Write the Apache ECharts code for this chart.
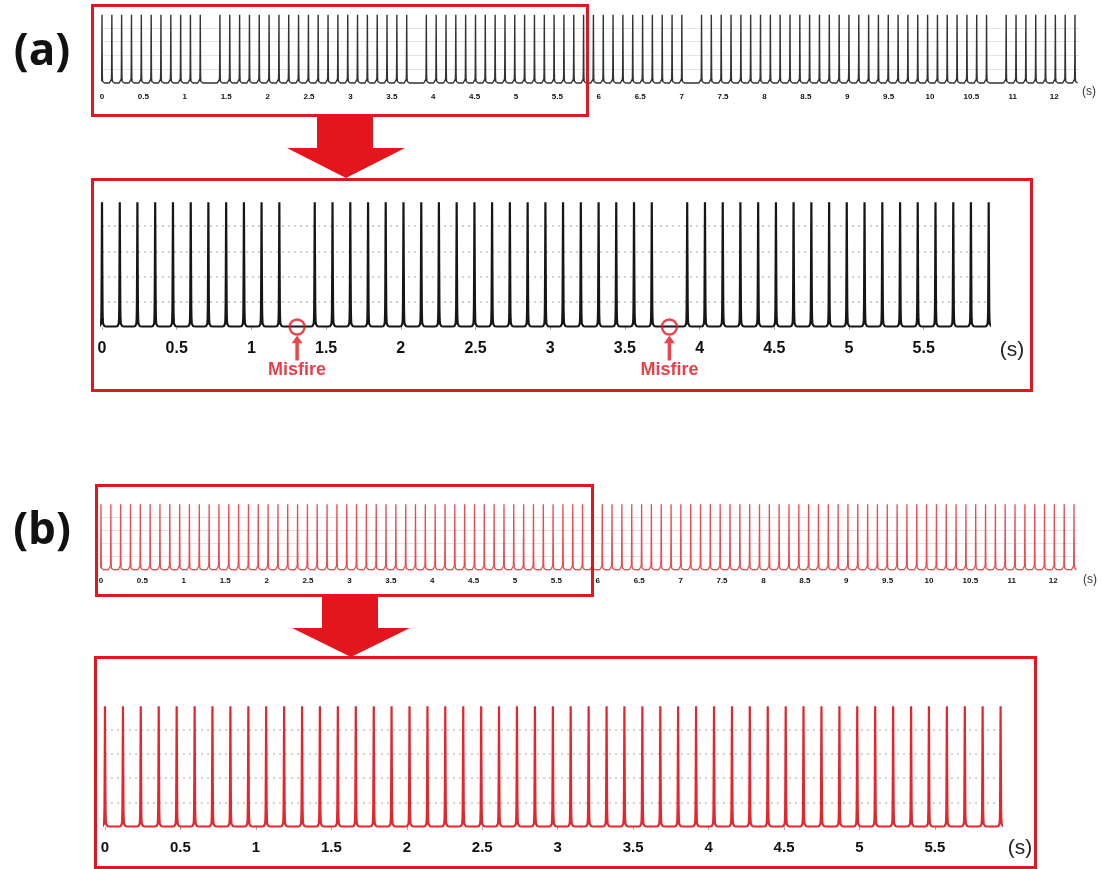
<!DOCTYPE html>
<html>
<head>
<meta charset="utf-8">
<script src="https://cdn.jsdelivr.net/npm/echarts@6/dist/echarts.min.js"></script>
<style>
  html, body { margin: 0; padding: 0; background: #fff; }
  #chart { width: 1102px; height: 869px; }
</style>
</head>
<body>
<div id="chart"></div>
<script>
// Ignition cycle times (s) over the 12 s recording
const firingTimes = [
  0.000, 0.119, 0.237, 0.356, 0.475, 0.594, 0.712, 0.831, 0.950, 1.068,
  1.187, 1.306, 1.424, 1.543, 1.662, 1.781, 1.899, 2.018, 2.137, 2.255,
  2.374, 2.493, 2.611, 2.730, 2.849, 2.968, 3.086, 3.205, 3.324, 3.442,
  3.561, 3.680, 3.798, 3.917, 4.036, 4.155, 4.273, 4.392, 4.511, 4.629,
  4.748, 4.867, 4.985, 5.104, 5.223, 5.342, 5.460, 5.579, 5.698, 5.816,
  5.935, 6.054, 6.172, 6.291, 6.410, 6.529, 6.647, 6.766, 6.885, 7.003,
  7.122, 7.241, 7.359, 7.478, 7.597, 7.716, 7.834, 7.953, 8.072, 8.190,
  8.309, 8.428, 8.546, 8.665, 8.784, 8.903, 9.021, 9.140, 9.259, 9.377,
  9.496, 9.615, 9.733, 9.852, 9.971, 10.090, 10.208, 10.327, 10.446, 10.564,
  10.683, 10.802, 10.920, 11.039, 11.158, 11.277, 11.395, 11.514, 11.633, 11.751
];

// Cycles where no pulse was produced in case (a)
const misfireTimes = [1.306, 3.798, 7.122, 10.802];

// Shape of one pulse: time offset from the peak (s) and signal level
const pulseOffsets = [-0.030, -0.016, -0.010, -0.007, -0.005, -0.0035, -0.002, 0.000, 0.002, 0.0035, 0.005, 0.007, 0.010, 0.017, 0.032];
const pulseLevels  = [ 0.02,   0.03,   0.06,   0.13,   0.30,   0.75,    2.30,  4.95,  2.30,  0.75,   0.30,  0.13,  0.06,  0.03,  0.02];

// Time-axis tick labels
const fullTickLabels = ['0', '0.5', '1', '1.5', '2', '2.5', '3', '3.5', '4', '4.5', '5', '5.5',
  '6', '6.5', '7', '7.5', '8', '8.5', '9', '9.5', '10', '10.5', '11', '12'];
const zoomTickLabels = ['0', '0.5', '1', '1.5', '2', '2.5', '3', '3.5', '4', '4.5', '5', '5.5'];

const FULL_MAX = 11.8;
const ZOOM_A_MAX = 5.937;
const ZOOM_B_MAX = 5.937;

function buildTrace(times) {
  const pts = [];
  times.forEach(function (t) {
    pulseOffsets.forEach(function (o, i) {
      pts.push([+(t + o).toFixed(4), pulseLevels[i]]);
    });
  });
  return pts;
}

const cyclesA = firingTimes.filter(function (t) { return misfireTimes.indexOf(t) < 0; });
const cyclesB = firingTimes.slice();
const traceA = buildTrace(cyclesA);
const traceB = buildTrace(cyclesB);
const misfiresShown = misfireTimes.filter(function (t) { return t <= ZOOM_A_MAX; });

const RED = '#e3161e';
const LABEL_FONT = 'Liberation Sans, Arial, sans-serif';

function xAxisFor(gridIndex, max, labels, fontSize, margin, tickShow) {
  const values = labels.map(function (_, i) { return i * 0.5; });
  return {
    type: 'value', gridIndex: gridIndex, min: 0, max: max, interval: 0.5,
    axisLine: { show: false },
    axisTick: { show: tickShow, length: 3, lineStyle: { color: '#aaa' }, customValues: values },
    splitLine: { show: false },
    axisLabel: {
      customValues: values,
      margin: margin,
      fontFamily: LABEL_FONT,
      fontWeight: 'bold', fontSize: fontSize, color: '#111',
      showMinLabel: true, showMaxLabel: true, hideOverlap: false,
      formatter: function (v) {
        const k = Math.round(v * 2);
        if (Math.abs(v * 2 - k) > 1e-6) return '';
        return labels[k] || '';
      }
    }
  };
}

function yAxisFor(gridIndex, lineStyle) {
  return {
    type: 'value', gridIndex: gridIndex, min: 0, max: 5, interval: 1,
    axisLine: { show: false }, axisTick: { show: false }, axisLabel: { show: false },
    splitLine: { show: true, showMinLine: false, showMaxLine: false, lineStyle: lineStyle }
  };
}

const chart = echarts.init(document.getElementById('chart'), null, { renderer: 'canvas' });

chart.setOption({
  animation: false,
  backgroundColor: '#fff',
  grid: [
    { left: 102, top: 14, width: FULL_MAX * 82.8, height: 69.3, outerBoundsMode: 'none' },
    { left: 102, top: 201, width: ZOOM_A_MAX * 149.4, height: 126, outerBoundsMode: 'none' },
    { left: 101, top: 503.5, width: FULL_MAX * 82.8, height: 66.5, outerBoundsMode: 'none' },
    { left: 105, top: 705, width: ZOOM_B_MAX * 150.9, height: 122, outerBoundsMode: 'none' }
  ],
  xAxis: [
    xAxisFor(0, FULL_MAX, fullTickLabels, 8, 9, false),
    xAxisFor(1, ZOOM_A_MAX, zoomTickLabels, 16, 14, true),
    xAxisFor(2, FULL_MAX, fullTickLabels, 8, 7, false),
    xAxisFor(3, ZOOM_B_MAX, zoomTickLabels, 15, 13, true)
  ],
  yAxis: [
    yAxisFor(0, { color: '#e4e4e4', width: 1 }),
    yAxisFor(1, { color: '#c4c4c4', width: 1.5, type: [2, 4] }),
    yAxisFor(2, { color: '#eedede', width: 1 }),
    yAxisFor(3, { color: '#c4c4c4', width: 1.5, type: [2, 4] })
  ],
  series: [
    { type: 'line', xAxisIndex: 0, yAxisIndex: 0, data: traceA, showSymbol: false, clip: true,
      lineStyle: { color: '#333333', width: 1.4 } },
    { type: 'line', xAxisIndex: 1, yAxisIndex: 1, data: traceA, showSymbol: false, clip: true,
      lineStyle: { color: '#161616', width: 2.2 } },
    { type: 'line', xAxisIndex: 2, yAxisIndex: 2, data: traceB, showSymbol: false, clip: true,
      lineStyle: { color: '#ea4a50', width: 1.3 } },
    { type: 'line', xAxisIndex: 3, yAxisIndex: 3, data: traceB, showSymbol: false, clip: true,
      lineStyle: { color: '#e4262d', width: 2.2 } },
    // Misfire rings on the baseline
    { type: 'scatter', xAxisIndex: 1, yAxisIndex: 1, clip: false, z: 5,
      data: misfiresShown.map(function (t) { return [t, 0]; }),
      symbol: 'circle', symbolSize: 15,
      itemStyle: { color: 'rgba(255,255,255,0)', borderColor: RED, borderWidth: 2.4 } },
    // Pointer arrows with captions
    { type: 'scatter', xAxisIndex: 1, yAxisIndex: 1, clip: false, z: 5,
      data: misfiresShown.map(function (t) { return [t, 0]; }),
      symbol: 'path://M5,0 L10,8 L6.6,8 L6.6,26 L3.4,26 L3.4,8 L0,8 Z',
      symbolSize: [11, 25], symbolOffset: [0, 21],
      itemStyle: { color: RED },
      label: { show: true, position: 'bottom', distance: 1, formatter: 'Misfire',
        color: '#e0121a', fontWeight: 'bold', fontSize: 18, fontFamily: LABEL_FONT } }
  ],
  graphic: [
    { type: 'rect', shape: { x: 92.5, y: 5.5, width: 495, height: 110 },
      style: { fill: null, stroke: RED, lineWidth: 3 }, z: 10 },
    { type: 'rect', shape: { x: 92.5, y: 179.5, width: 939, height: 211 },
      style: { fill: null, stroke: RED, lineWidth: 3 }, z: 10 },
    { type: 'rect', shape: { x: 96.5, y: 485.5, width: 496, height: 110 },
      style: { fill: null, stroke: RED, lineWidth: 3 }, z: 10 },
    { type: 'rect', shape: { x: 95.5, y: 657.5, width: 940, height: 210 },
      style: { fill: null, stroke: RED, lineWidth: 3 }, z: 10 },
    { type: 'polygon', shape: { points: [[317, 117], [373, 117], [373, 148], [405, 148], [346, 178], [287, 148], [317, 148]] },
      style: { fill: RED }, z: 10 },
    { type: 'polygon', shape: { points: [[322, 597], [378, 597], [378, 628], [410, 628], [351, 657], [292, 628], [322, 628]] },
      style: { fill: RED }, z: 10 },
    { type: 'text', x: 42, y: 52, style: { text: '(a)', fontSize: 44, fontWeight: 'bold',
      fontFamily: 'Open Sans, Liberation Sans, sans-serif', fill: '#111', align: 'center', verticalAlign: 'middle' } },
    { type: 'text', x: 42, y: 531, style: { text: '(b)', fontSize: 44, fontWeight: 'bold',
      fontFamily: 'Open Sans, Liberation Sans, sans-serif', fill: '#111', align: 'center', verticalAlign: 'middle' } },
    { type: 'text', x: 1089, y: 92, style: { text: '(s)', fontSize: 12, fill: '#333',
      fontFamily: LABEL_FONT, align: 'center', verticalAlign: 'middle' } },
    { type: 'text', x: 1090, y: 580, style: { text: '(s)', fontSize: 12, fill: '#333',
      fontFamily: LABEL_FONT, align: 'center', verticalAlign: 'middle' } },
    { type: 'text', x: 1012, y: 350, style: { text: '(s)', fontSize: 21, fill: '#222',
      fontFamily: LABEL_FONT, align: 'center', verticalAlign: 'middle' } },
    { type: 'text', x: 1020, y: 848, style: { text: '(s)', fontSize: 21, fill: '#222',
      fontFamily: LABEL_FONT, align: 'center', verticalAlign: 'middle' } }
  ]
});
</script>
</body>
</html>
